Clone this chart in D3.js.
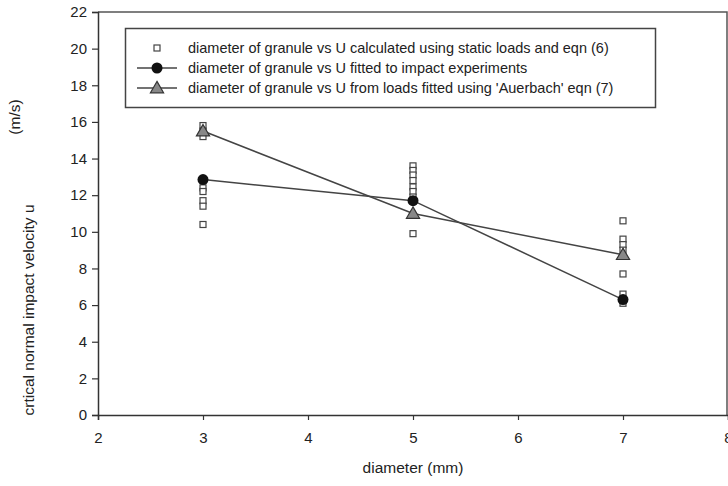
<!DOCTYPE html>
<html>
<head>
<meta charset="utf-8">
<script src="https://cdn.jsdelivr.net/npm/d3@7"></script>
<style>
  body { margin: 0; background: #fff; }
  text { font-family: "Liberation Sans", Arial, sans-serif; fill: #222; }
</style>
</head>
<body>
<svg id="chart" width="728" height="486"></svg>
<script>
// diameters (mm)
var diameters = [3, 5, 7];

// U calculated from static loads, eqn (6) - scattered points per diameter
var staticU = [
  [15.8, 15.5, 15.2, 12.4, 12.2, 11.7, 11.4, 10.4],
  [13.6, 13.35, 13.1, 12.8, 12.45, 12.2, 11.9, 9.9],
  [10.6, 9.6, 9.3, 9.0, 7.7, 6.6, 6.3, 6.1]
];

// U fitted to impact experiments
var impactU = [12.85, 11.7, 6.3];

// U from loads fitted using Auerbach eqn (7)
var auerbachU = [15.5, 11.0, 8.75];

var xTicks = [2, 3, 4, 5, 6, 7, 8];
var yTicks = [0, 2, 4, 6, 8, 10, 12, 14, 16, 18, 20, 22];

var legendLabels = [
  "diameter of granule vs U calculated using static loads and eqn (6)",
  "diameter of granule vs U fitted to impact experiments",
  "diameter of granule vs U from loads fitted using 'Auerbach' eqn (7)"
];

var svg = d3.select("#chart");
var axisColor = "#333";

var x = d3.scaleLinear().domain([2, 8]).range([98, 728]);
var y = d3.scaleLinear().domain([0, 22]).range([415, 12]);

// plot frame (top + right edges)
svg.append("path")
  .attr("d", "M" + x(2) + "," + y(22) + "H727V" + y(0))
  .attr("fill", "none")
  .attr("stroke", "#555")
  .attr("stroke-width", 1.5);

// axes
var xAxis = svg.append("g")
  .attr("transform", "translate(0," + y(0) + ")")
  .call(d3.axisBottom(x).tickValues(xTicks).tickSize(5).tickPadding(12).tickFormat(d3.format("d")));

var yAxis = svg.append("g")
  .attr("transform", "translate(" + x(2) + ",0)")
  .call(d3.axisLeft(y).tickValues(yTicks).tickSize(6).tickPadding(5).tickFormat(d3.format("d")));

[xAxis, yAxis].forEach(function(ax) {
  ax.select(".domain").attr("stroke", axisColor).attr("stroke-width", 1.5);
  ax.selectAll(".tick line").attr("stroke", axisColor).attr("stroke-width", 1.2);
  ax.selectAll(".tick text")
    .style("font-family", "Liberation Sans, Arial, sans-serif")
    .style("font-size", "15px")
    .attr("fill", "#222");
});

// axis titles
svg.append("text")
  .attr("x", 413)
  .attr("y", 473)
  .attr("text-anchor", "middle")
  .style("font-size", "15.5px")
  .text("diameter (mm)");

svg.append("text")
  .attr("transform", "translate(34,310) rotate(-90)")
  .attr("text-anchor", "middle")
  .style("font-size", "15.5px")
  .text("crtical normal impact velocity u");

svg.append("text")
  .attr("transform", "translate(20,117) rotate(-90)")
  .attr("text-anchor", "middle")
  .style("font-size", "15.5px")
  .text("(m/s)");

// flatten static points
var staticPts = [];
diameters.forEach(function(d, i) {
  staticU[i].forEach(function(v) { staticPts.push({d: d, u: v}); });
});

var line = d3.line()
  .x(function(d) { return x(d.d); })
  .y(function(d) { return y(d.u); });

var impactPts = diameters.map(function(d, i) { return {d: d, u: impactU[i]}; });
var auerbachPts = diameters.map(function(d, i) { return {d: d, u: auerbachU[i]}; });

svg.append("path")
  .datum(impactPts)
  .attr("d", line)
  .attr("fill", "none")
  .attr("stroke", "#444")
  .attr("stroke-width", 1.5);

svg.append("path")
  .datum(auerbachPts)
  .attr("d", line)
  .attr("fill", "none")
  .attr("stroke", "#444")
  .attr("stroke-width", 1.5);

// static squares
svg.append("g").selectAll("rect")
  .data(staticPts)
  .enter().append("rect")
  .attr("x", function(d) { return x(d.d) - 3; })
  .attr("y", function(d) { return y(d.u) - 3; })
  .attr("width", 6)
  .attr("height", 6)
  .attr("fill", "#fff")
  .attr("stroke", "#444")
  .attr("stroke-width", 1.2);

// impact circles
svg.append("g").selectAll("circle")
  .data(impactPts)
  .enter().append("circle")
  .attr("cx", function(d) { return x(d.d); })
  .attr("cy", function(d) { return y(d.u); })
  .attr("r", 5.5)
  .attr("fill", "#111");

// auerbach triangles
var tri = d3.symbol().type(d3.symbolTriangle).size(75);
svg.append("g").selectAll("path")
  .data(auerbachPts)
  .enter().append("path")
  .attr("d", tri)
  .attr("transform", function(d) { return "translate(" + x(d.d) + "," + (y(d.u) + 1) + ")"; })
  .attr("fill", "#888")
  .attr("stroke", "#333")
  .attr("stroke-width", 1.2);

// legend
var lg = svg.append("g");
lg.append("rect")
  .attr("x", 125.5)
  .attr("y", 28.5)
  .attr("width", 530)
  .attr("height", 79)
  .attr("fill", "#fff")
  .attr("stroke", "#444")
  .attr("stroke-width", 1.5);

var rowY = [48, 68, 88];
legendLabels.forEach(function(lbl, i) {
  var cy = rowY[i];
  if (i > 0) {
    lg.append("line")
      .attr("x1", 137).attr("x2", 177)
      .attr("y1", cy).attr("y2", cy)
      .attr("stroke", "#444")
      .attr("stroke-width", 1.5);
  }
  if (i === 0) {
    lg.append("rect")
      .attr("x", 154).attr("y", cy - 3)
      .attr("width", 6).attr("height", 6)
      .attr("fill", "#fff").attr("stroke", "#444").attr("stroke-width", 1.2);
  } else if (i === 1) {
    lg.append("circle")
      .attr("cx", 157).attr("cy", cy).attr("r", 5.5).attr("fill", "#111");
  } else {
    lg.append("path")
      .attr("d", tri)
      .attr("transform", "translate(157," + (cy + 1) + ")")
      .attr("fill", "#888").attr("stroke", "#333").attr("stroke-width", 1.2);
  }
  lg.append("text")
    .attr("x", 188)
    .attr("y", cy + 5)
    .style("font-size", "14.5px")
    .text(lbl);
});
</script>
</body>
</html>
